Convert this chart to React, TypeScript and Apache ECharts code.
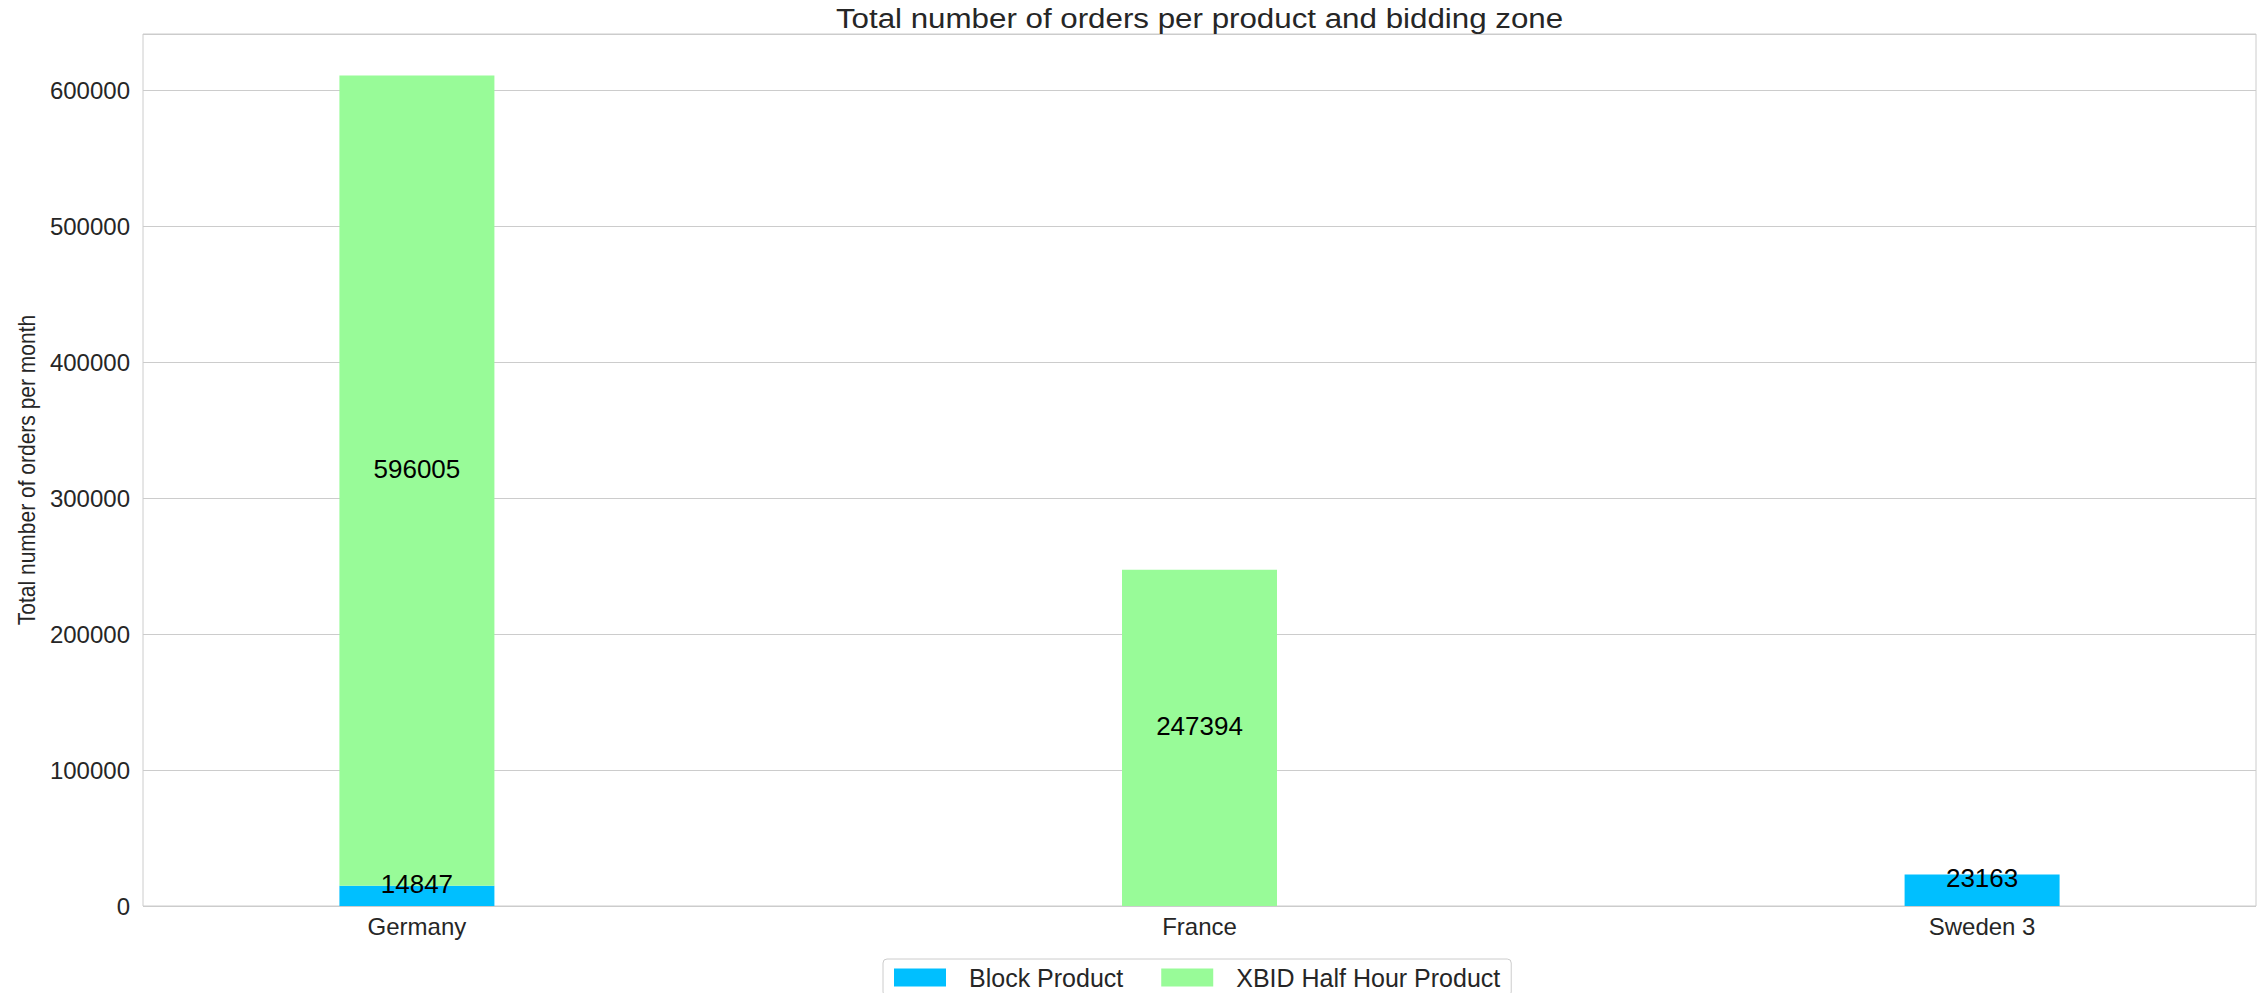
import React, { useEffect, useRef } from 'react';
import * as echarts from 'echarts';

const categories = ['Germany', 'France', 'Sweden 3'];
const blockProduct = [14847, 0, 23163];
const xbidHalfHourProduct = [596005, 247394, 0];
const seriesNames = ['Block Product', 'XBID Half Hour Product'];
const yAxisMax = 641395;
const yTickStep = 100000;
const titleText = 'Total number of orders per product and bidding zone';
const yAxisTitle = 'Total number of orders per month';

const FONT = 'Liberation Sans, Arial, Helvetica, sans-serif';
const TEXT = '#262626';

export default function App() {
  const ref = useRef<HTMLDivElement>(null);

  useEffect(() => {
    if (!ref.current) return;
    const chart = echarts.init(ref.current, undefined, { renderer: 'svg' });

    const label = {
      show: true,
      position: 'inside',
      offset: [0, -12],
      color: '#000',
      fontFamily: FONT,
      fontSize: 26,
      formatter: (p: any) => (p.value[0] ? String(p.value[0]) : ''),
    };

    chart.setOption({
      animation: false,
      backgroundColor: '#ffffff',
      textStyle: { fontFamily: FONT },
      graphic: [
        {
          type: 'text',
          x: 1199.5,
          y: 19,
          scaleX: 1.16,
          style: {
            text: titleText,
            fontFamily: FONT,
            fontSize: 27,
            fill: TEXT,
            align: 'center',
            verticalAlign: 'middle',
          },
        },
        {
          type: 'text',
          x: 26,
          y: 470,
          rotation: Math.PI / 2,
          scaleY: 1.16,
          style: {
            text: yAxisTitle,
            fontFamily: FONT,
            fontSize: 21,
            fill: TEXT,
            align: 'center',
            verticalAlign: 'middle',
          },
        },
      ],
      legend: {
        data: seriesNames,
        left: 883,
        top: 959,
        icon: 'rect',
        itemWidth: 52,
        itemHeight: 18,
        itemGap: 38,
        padding: [6, 11, 6, 11],
        borderColor: '#cccccc',
        borderWidth: 1,
        borderRadius: 4,
        textStyle: {
          fontFamily: FONT,
          fontSize: 25,
          color: TEXT,
          padding: [0, 0, 0, 18],
        },
      },
      grid: {
        left: 143,
        right: 6,
        top: 34,
        bottom: 87,
        show: true,
        borderColor: '#cccccc',
        borderWidth: 1,
        backgroundColor: '#ffffff',
        containLabel: false,
      },
      xAxis: {
        type: 'value',
        min: -0.35,
        max: 2.35,
        splitLine: { show: false },
        axisLine: { show: false },
        axisTick: { show: false },
        axisLabel: {
          customValues: [0, 1, 2],
          formatter: (v: number) => categories[Math.round(v)] ?? '',
          fontFamily: FONT,
          fontSize: 24,
          color: TEXT,
          margin: 8,
        },
      },
      yAxis: {
        type: 'value',
        min: 0,
        max: yAxisMax,
        interval: yTickStep,
        axisLine: { show: false },
        axisTick: { show: false },
        splitLine: { show: true, lineStyle: { color: '#cccccc', width: 1 } },
        axisLabel: {
          showMaxLabel: false,
          formatter: (v: number) => String(v),
          fontFamily: FONT,
          fontSize: 24,
          color: TEXT,
          margin: 13,
        },
      },
      series: [
        {
          name: seriesNames[0],
          type: 'bar',
          stack: 'total',
          barWidth: 155,
          encode: { x: 1, y: 0 },
          itemStyle: { color: '#00bfff' },
          label,
          data: blockProduct.map((v, i) => [v, i]),
        },
        {
          name: seriesNames[1],
          type: 'bar',
          stack: 'total',
          barWidth: 155,
          encode: { x: 1, y: 0 },
          itemStyle: { color: '#98fb98' },
          label,
          data: xbidHalfHourProduct.map((v, i) => [v, i]),
        },
      ],
    });

    return () => chart.dispose();
  }, []);

  return (
    <div
      ref={ref}
      style={{ position: 'absolute', left: 0, top: 0, width: 2262, height: 993 }}
    />
  );
}
